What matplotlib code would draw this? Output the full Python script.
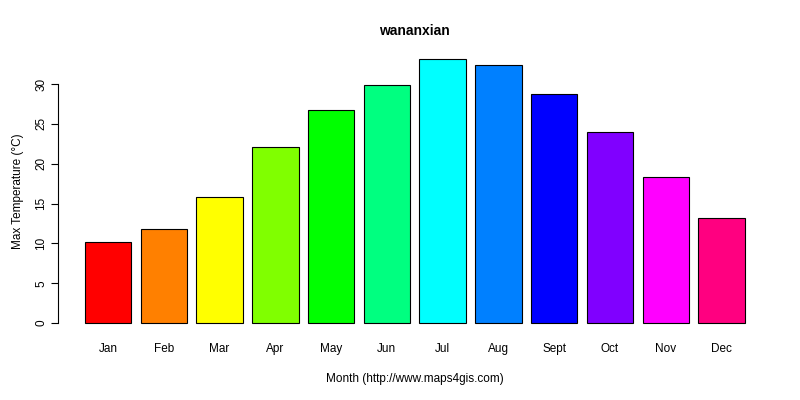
import numpy as np
import matplotlib
matplotlib.use("Agg")
import matplotlib.pyplot as plt

plt.rcParams["font.family"] = "Liberation Sans"

months = ["Jan", "Feb", "Mar", "Apr", "May", "Jun", "Jul", "Aug", "Sept", "Oct", "Nov", "Dec"]
max_temp = [10.2, 11.8, 15.8, 22.1, 26.7, 29.9, 33.1, 32.4, 28.7, 24.0, 18.3, 13.2]
colors = ["#FF0000", "#FF8000", "#FFFF00", "#80FF00", "#00FF00", "#00FF80",
          "#00FFFF", "#0080FF", "#0000FF", "#8000FF", "#FF00FF", "#FF0080"]
yticks = [0, 5, 10, 15, 20, 25, 30]

fig = plt.figure(figsize=(8, 4), dpi=100)
ax = fig.add_axes([0.073, 0.166, 0.891, 0.7115])

# R barplot layout: width 1, space 0.2
x = 0.2 + np.arange(len(months)) * 1.2 + 0.5
ax.bar(x, max_temp, width=1.0, color=colors, edgecolor="black", linewidth=0.8)

ax.set_xlim(-0.368, 14.968)
ax.set_ylim(-1.32, 34.4)
for s in ax.spines.values():
    s.set_visible(False)

ax.set_xticks(x)
ax.set_xticklabels(months, fontsize=8.5)
ax.tick_params(axis="x", length=0, pad=7)

ax.set_yticks(yticks)
ax.set_yticklabels([str(v) for v in yticks], fontsize=8.5, rotation=90, va="center")
ax.tick_params(axis="y", length=5, pad=3)
ax.plot([-0.368, -0.368], [0, 30], color="black", linewidth=0.8, clip_on=False)

ax.set_ylabel("Max Temperature (°C)", fontsize=8.5, labelpad=8)
ax.set_xlabel("Month (http://www.maps4gis.com)", fontsize=8.5, labelpad=13)
ax.set_title("wananxian", fontsize=10, fontweight="bold", pad=10)

fig.savefig("out.png", dpi=100)
